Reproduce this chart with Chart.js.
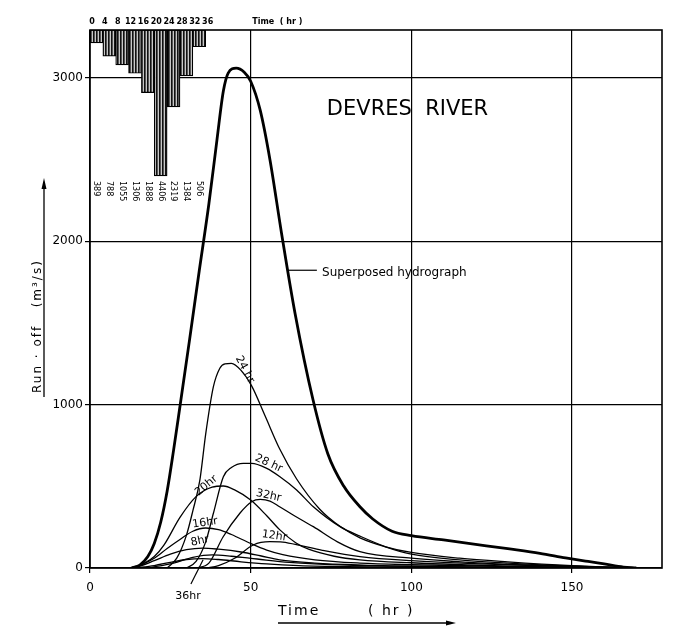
<!DOCTYPE html>
<html>
<head>
<meta charset="utf-8">
<script src="https://cdn.jsdelivr.net/npm/chart.js@4.4.1/dist/chart.umd.min.js"></script>
<style>
  html, body { margin: 0; padding: 0; background: #fff; }
  canvas { display: block; }
</style>
</head>
<body>
<canvas id="c" width="684" height="641"></canvas>
<script>
// Effective rainfall in 4-hour blocks (hyetograph hanging from the top)
const rainStart  = [0, 4, 8, 12, 16, 20, 24, 28, 32];
const rainValues = [389, 788, 1055, 1306, 1888, 4406, 2319, 1384, 506];
const rainTicks  = [0, 4, 8, 12, 16, 20, 24, 28, 32, 36];

// Axis ticks
const xTicks = [0, 50, 100, 150];
const yTicks = [0, 1000, 2000, 3000];

// Superposed hydrograph (time in hr, run-off in m3/s)
const superT = [13, 15.5, 18, 20, 22, 24, 26, 28, 31, 34, 37, 39.5, 41.5, 43, 45.5, 48, 50, 53, 56, 59.6, 63.8, 69.4, 74, 79, 84, 88, 94, 100, 110, 120, 130, 140, 148, 155, 160, 166, 170];
const superQ = [0, 18, 70, 150, 280, 470, 720, 990, 1400, 1820, 2230, 2620, 2920, 3030, 3060, 3035, 2980, 2800, 2500, 2050, 1560, 1030, 700, 500, 375, 300, 225, 198, 172, 145, 118, 90, 62, 40, 25, 6, 0];

// Component hydrographs, one per rainfall block
const h4T  = [14, 20, 25, 30, 35, 40, 47, 55, 65, 80, 100, 130];
const h4Q  = [0, 15, 35, 52, 58, 52, 38, 25, 15, 8, 4, 0];
const h8T  = [12, 16, 20, 25, 30, 35, 40, 47, 53, 59, 70, 85, 110, 140];
const h8Q  = [0, 15, 45, 85, 112, 122, 115, 98, 75, 50, 30, 18, 8, 0];
const h12T = [18, 26, 32, 38, 44, 52, 62, 80, 110, 150];
const h12Q = [0, 30, 65, 80, 72, 55, 35, 18, 8, 0];
const h16T = [12, 16, 20, 24, 28, 32, 36, 40, 44, 50, 55, 60, 70, 84, 100, 140, 165];
const h16Q = [0, 20, 60, 120, 175, 225, 245, 235, 205, 150, 110, 82, 50, 30, 20, 5, 0];
const h20T = [14, 17, 20, 23, 28, 33, 38, 41.5, 45, 50, 55, 59, 64, 68, 76, 84, 100, 130, 165];
const h20Q = [0, 30, 70, 140, 310, 437, 495, 502, 478, 416, 320, 235, 155, 115, 72, 50, 32, 12, 0];
const h24T = [24, 27, 30, 32, 34.2, 36, 38.4, 40.4, 42, 44, 47, 50.3, 54.4, 59, 64.3, 71.5, 78, 84, 92, 100, 115, 130, 150, 170];
const h24Q = [0, 60, 200, 350, 540, 820, 1110, 1223, 1250, 1253, 1210, 1115, 935, 730, 545, 360, 252, 185, 130, 95, 60, 38, 15, 0];
const h28T = [30, 33, 36, 38.4, 41.5, 44, 47.7, 50.3, 55, 59.1, 64.3, 69.5, 77.8, 84, 92, 100, 115, 130, 150, 170];
const h28Q = [0, 40, 160, 335, 559, 615, 641, 641, 610, 559, 478, 375, 253, 195, 130, 85, 50, 30, 12, 0];
const h32T = [33, 37, 41.4, 46.7, 50.3, 53, 56, 59, 64, 69.5, 77, 84, 100, 130, 165];
const h32Q = [0, 30, 190, 337, 406, 420, 410, 375, 315, 253, 160, 100, 60, 22, 0];
const h36T = [36, 40, 45, 50.8, 56, 60, 66, 72, 84, 100, 130, 170];
const h36Q = [0, 15, 60, 141, 161, 158, 135, 110, 70, 45, 20, 0];

// Text placed next to the curves (anchor in data units, angle in degrees)
const curveLabels = [
  { text: '24 hr', t: 48.2, q: 1215, angle: 62 },
  { text: '28 hr', t: 55.6, q: 640, angle: 25 },
  { text: '20hr',  t: 36.2, q: 505, angle: -40 },
  { text: '32hr',  t: 55.6, q: 443, angle: 12 },
  { text: '16hr',  t: 35.8, q: 276, angle: -8 },
  { text: '8hr',   t: 34.2, q: 165, angle: -12 },
  { text: '12hr',  t: 57.4, q: 196, angle: 8 },
  { text: '36hr',  t: 30.5, q: -170, angle: 0 }
];

const pts = (T, Q) => T.map((t, i) => ({ x: t, y: Q[i] }));

const canvas = document.getElementById('c');
const ctx = canvas.getContext('2d');

// vertical hatching for the rainfall blocks
const pc = document.createElement('canvas');
pc.width = 3; pc.height = 4;
const pcx = pc.getContext('2d');
pcx.fillStyle = '#c8c8c8'; pcx.fillRect(0, 0, 3, 4);
pcx.fillStyle = '#111'; pcx.fillRect(0, 0, 1, 4);
pcx.fillStyle = '#555'; pcx.fillRect(1, 0, 1, 4);
const hatch = ctx.createPattern(pc, 'repeat');

Chart.defaults.font.family = '"DejaVu Sans", sans-serif';
Chart.defaults.color = '#000';

const thin = (T, Q) => ({
  type: 'line', data: pts(T, Q), borderColor: '#000', borderWidth: 1.3,
  pointRadius: 0, fill: false, cubicInterpolationMode: 'monotone', yAxisID: 'y'
});

const deco = {
  id: 'deco',
  afterDraw(chart) {
    const { ctx, chartArea: a } = chart;
    const xs = chart.scales.x, ys = chart.scales.y;
    const px = t => xs.getPixelForValue(t);
    const py = q => ys.getPixelForValue(q);
    ctx.save();
    ctx.strokeStyle = '#000';
    ctx.fillStyle = '#000';

    // frame
    ctx.lineWidth = 1.6;
    ctx.strokeRect(a.left, a.top, a.right - a.left, a.bottom - a.top);

    // rainfall time scale above the frame
    ctx.font = 'bold 8px "DejaVu Sans"';
    ctx.textAlign = 'center';
    ctx.textBaseline = 'middle';
    rainTicks.forEach(t => ctx.fillText(String(t), px(t) + 2, a.top - 8));
    ctx.textAlign = 'left';
    ctx.fillText('Time  ( hr )', px(50.5), a.top - 8);

    // rainfall amounts, written downwards under each block
    ctx.font = '8px "DejaVu Sans"';
    rainValues.forEach((v, i) => {
      ctx.save();
      ctx.translate(px(rainStart[i] + 2), a.top + 151);
      ctx.rotate(Math.PI / 2);
      ctx.textAlign = 'left';
      ctx.textBaseline = 'middle';
      ctx.fillText(String(v), 0, 0);
      ctx.restore();
    });

    // title
    ctx.font = '21px "DejaVu Sans"';
    ctx.textAlign = 'left';
    ctx.textBaseline = 'middle';
    ctx.fillText('DEVRES  RIVER', px(73.7), py(2810));

    // superposed hydrograph label with leader
    ctx.lineWidth = 1.2;
    ctx.beginPath();
    ctx.moveTo(px(61.3), py(1823));
    ctx.lineTo(px(70.6), py(1823));
    ctx.stroke();
    ctx.font = '12px "DejaVu Sans"';
    ctx.fillText('Superposed hydrograph', px(72.2), py(1810));

    // component curve labels
    ctx.font = '11px "DejaVu Sans"';
    ctx.textAlign = 'center';
    curveLabels.forEach(l => {
      ctx.save();
      ctx.translate(px(l.t), py(l.q));
      ctx.rotate(l.angle * Math.PI / 180);
      ctx.fillText(l.text, 0, 0);
      ctx.restore();
    });
    ctx.beginPath();
    ctx.moveTo(px(31.4), py(-98));
    ctx.lineTo(px(35.2), py(50));
    ctx.stroke();

    // y-axis title with arrow
    ctx.save();
    ctx.translate(41, 393);
    ctx.rotate(-Math.PI / 2);
    ctx.font = '12px "DejaVu Sans"';
    ctx.letterSpacing = '2px';
    ctx.textAlign = 'left';
    ctx.textBaseline = 'alphabetic';
    ctx.fillText('Run · off   (m³/s)', 0, 0);
    ctx.restore();
    ctx.lineWidth = 1.3;
    ctx.beginPath();
    ctx.moveTo(44, 397);
    ctx.lineTo(44, 186);
    ctx.stroke();
    ctx.beginPath();
    ctx.moveTo(44, 178); ctx.lineTo(41.5, 189); ctx.lineTo(46.5, 189); ctx.closePath();
    ctx.fill();

    // x-axis title with arrow
    ctx.font = '14px "DejaVu Sans"';
    ctx.letterSpacing = '2px';
    ctx.textAlign = 'left';
    ctx.textBaseline = 'alphabetic';
    ctx.fillText('Time', 278, 615);
    ctx.fillText('( hr )', 368, 615);
    ctx.letterSpacing = '0px';
    ctx.beginPath();
    ctx.moveTo(278, 623);
    ctx.lineTo(448, 623);
    ctx.stroke();
    ctx.beginPath();
    ctx.moveTo(456, 623); ctx.lineTo(446, 620.5); ctx.lineTo(446, 625.5); ctx.closePath();
    ctx.fill();

    ctx.restore();
  }
};

new Chart(ctx, {
  type: 'line',
  data: {
    datasets: [
      {
        type: 'bar',
        data: rainStart.map((s, i) => ({ x: s + 2, y: rainValues[i] })),
        xAxisID: 'x', yAxisID: 'yr',
        backgroundColor: hatch, borderColor: '#000', borderWidth: 1.2,
        borderSkipped: false, barPercentage: 1, categoryPercentage: 1
      },
      thin(h4T, h4Q), thin(h8T, h8Q), thin(h12T, h12Q), thin(h16T, h16Q),
      thin(h20T, h20Q), thin(h24T, h24Q), thin(h28T, h28Q), thin(h32T, h32Q),
      thin(h36T, h36Q),
      {
        type: 'line', data: pts(superT, superQ), borderColor: '#000', borderWidth: 2.8,
        pointRadius: 0, fill: false, cubicInterpolationMode: 'monotone', yAxisID: 'y'
      }
    ]
  },
  options: {
    responsive: false,
    animation: false,
    devicePixelRatio: 1,
    layout: { padding: { top: 30, right: 22, bottom: 0, left: 0 } },
    plugins: { legend: { display: false }, tooltip: { enabled: false } },
    scales: {
      x: {
        type: 'linear', min: 0, max: 178, offset: false,
        afterBuildTicks: s => { s.ticks = xTicks.map(v => ({ value: v })); },
        afterFit: s => { s.height = 73; },
        grid: { offset: false, color: '#000', lineWidth: 1.2, tickLength: 5, drawOnChartArea: true },
        border: { display: false },
        ticks: { font: { size: 12 }, padding: 8, maxRotation: 0, callback: v => String(v) }
      },
      y: {
        type: 'linear', min: 0, max: 3294,
        afterBuildTicks: s => { s.ticks = yTicks.map(v => ({ value: v })); },
        afterFit: s => { s.width = 90; },
        grid: { color: '#000', lineWidth: 1.2, tickLength: 5 },
        border: { display: false },
        ticks: { font: { size: 12 }, padding: 2, callback: v => String(v) }
      },
      yr: {
        type: 'linear', display: false, reverse: true, min: 0, max: 16240
      }
    }
  },
  plugins: [deco]
});
</script>
</body>
</html>
